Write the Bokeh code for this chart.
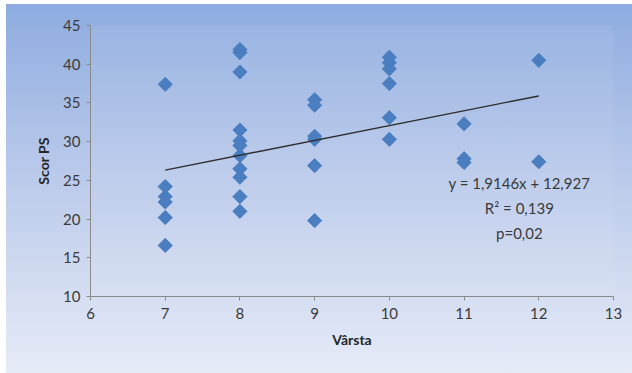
import numpy as np
from bokeh.plotting import figure
from bokeh.models import ColumnDataSource, Label, FixedTicker
from bokeh.embed import file_html
from bokeh.resources import INLINE

# ---- data ----
age_7 = [37.4, 24.2, 22.9, 22.2, 20.2, 16.6]
age_8 = [41.9, 41.5, 39.0, 31.5, 30.1, 29.5, 28.2, 26.5, 25.4, 22.9, 21.0]
age_9 = [35.4, 34.7, 30.7, 30.3, 26.9, 19.8]
age_10 = [40.9, 40.2, 39.4, 37.5, 33.1, 30.3]
age_11 = [32.3, 27.8, 27.3]
age_12 = [40.5, 27.4]
ages = [7, 8, 9, 10, 11, 12]
scores = [age_7, age_8, age_9, age_10, age_11, age_12]

trend_slope = 1.9146
trend_intercept = 12.927
trend_x = [7, 12]

x_ticks = [6, 7, 8, 9, 10, 11, 12, 13]
y_ticks = [10, 15, 20, 25, 30, 35, 40, 45]

eq_lines = ["y = 1,9146x + 12,927", "R\u00b2 = 0,139", "p=0,02"]

xs, ys = [], []
for a, vals in zip(ages, scores):
    xs += [a] * len(vals)
    ys += vals
src = ColumnDataSource(dict(x=xs, y=ys))

FONT = "Lato"
TXT = "#3a3a3a"

p = figure(width=632, height=373, output_backend="svg", toolbar_location=None,
           x_range=(6, 13), y_range=(10, 45),
           min_border_left=90, min_border_right=19, min_border_top=25, min_border_bottom=77)
p.styles = {"background": "linear-gradient(to bottom, #8eace0 0%, #b9c9ea 45%, #e6ebf7 100%) 6px 4px / 626px 369px no-repeat, #ffffff"}
p.border_fill_alpha = 0
p.background_fill_color = "#ffffff"
p.background_fill_alpha = 0.06
p.outline_line_color = None
p.xgrid.visible = False
p.ygrid.visible = False

for ax in (p.xaxis, p.yaxis):
    ax.axis_line_color = "#8a8a8a"
    ax.major_tick_line_color = "#8a8a8a"
    ax.minor_tick_line_color = None
    ax.major_tick_in = 0
    ax.major_tick_out = 4
    ax.major_label_text_font = FONT
    ax.major_label_text_font_size = "15px"
    ax.major_label_text_color = TXT
    ax.axis_label_text_font = FONT
    ax.axis_label_text_font_size = "14px"
    ax.axis_label_text_font_style = "bold"
    ax.axis_label_text_color = "#262626"

p.xaxis.ticker = FixedTicker(ticks=x_ticks)
p.yaxis.ticker = FixedTicker(ticks=y_ticks)
p.xaxis.axis_label = "Vârsta"
p.yaxis.axis_label = "Scor PS"
p.xaxis.major_label_standoff = 7
p.xaxis.axis_label_standoff = 9
p.yaxis.major_label_standoff = 6
p.yaxis.axis_label_standoff = 8

p.scatter("x", "y", source=src, marker="square", size=10, angle=np.pi / 4,
          fill_color="#4a7ec0", line_color="#4a7ec0")

ty = [trend_slope * x + trend_intercept for x in trend_x]
p.line(trend_x, ty, line_color="#2e2e2e", line_width=1.4)

label_y = [24.6, 21.4, 18.2]
for t, yy in zip(eq_lines, label_y):
    p.add_layout(Label(x=11.74, y=yy, text=t, text_align="center", text_baseline="middle",
                       text_font=FONT, text_font_size="15px", text_color=TXT))

open("out.html", "w").write(file_html(p, INLINE))
